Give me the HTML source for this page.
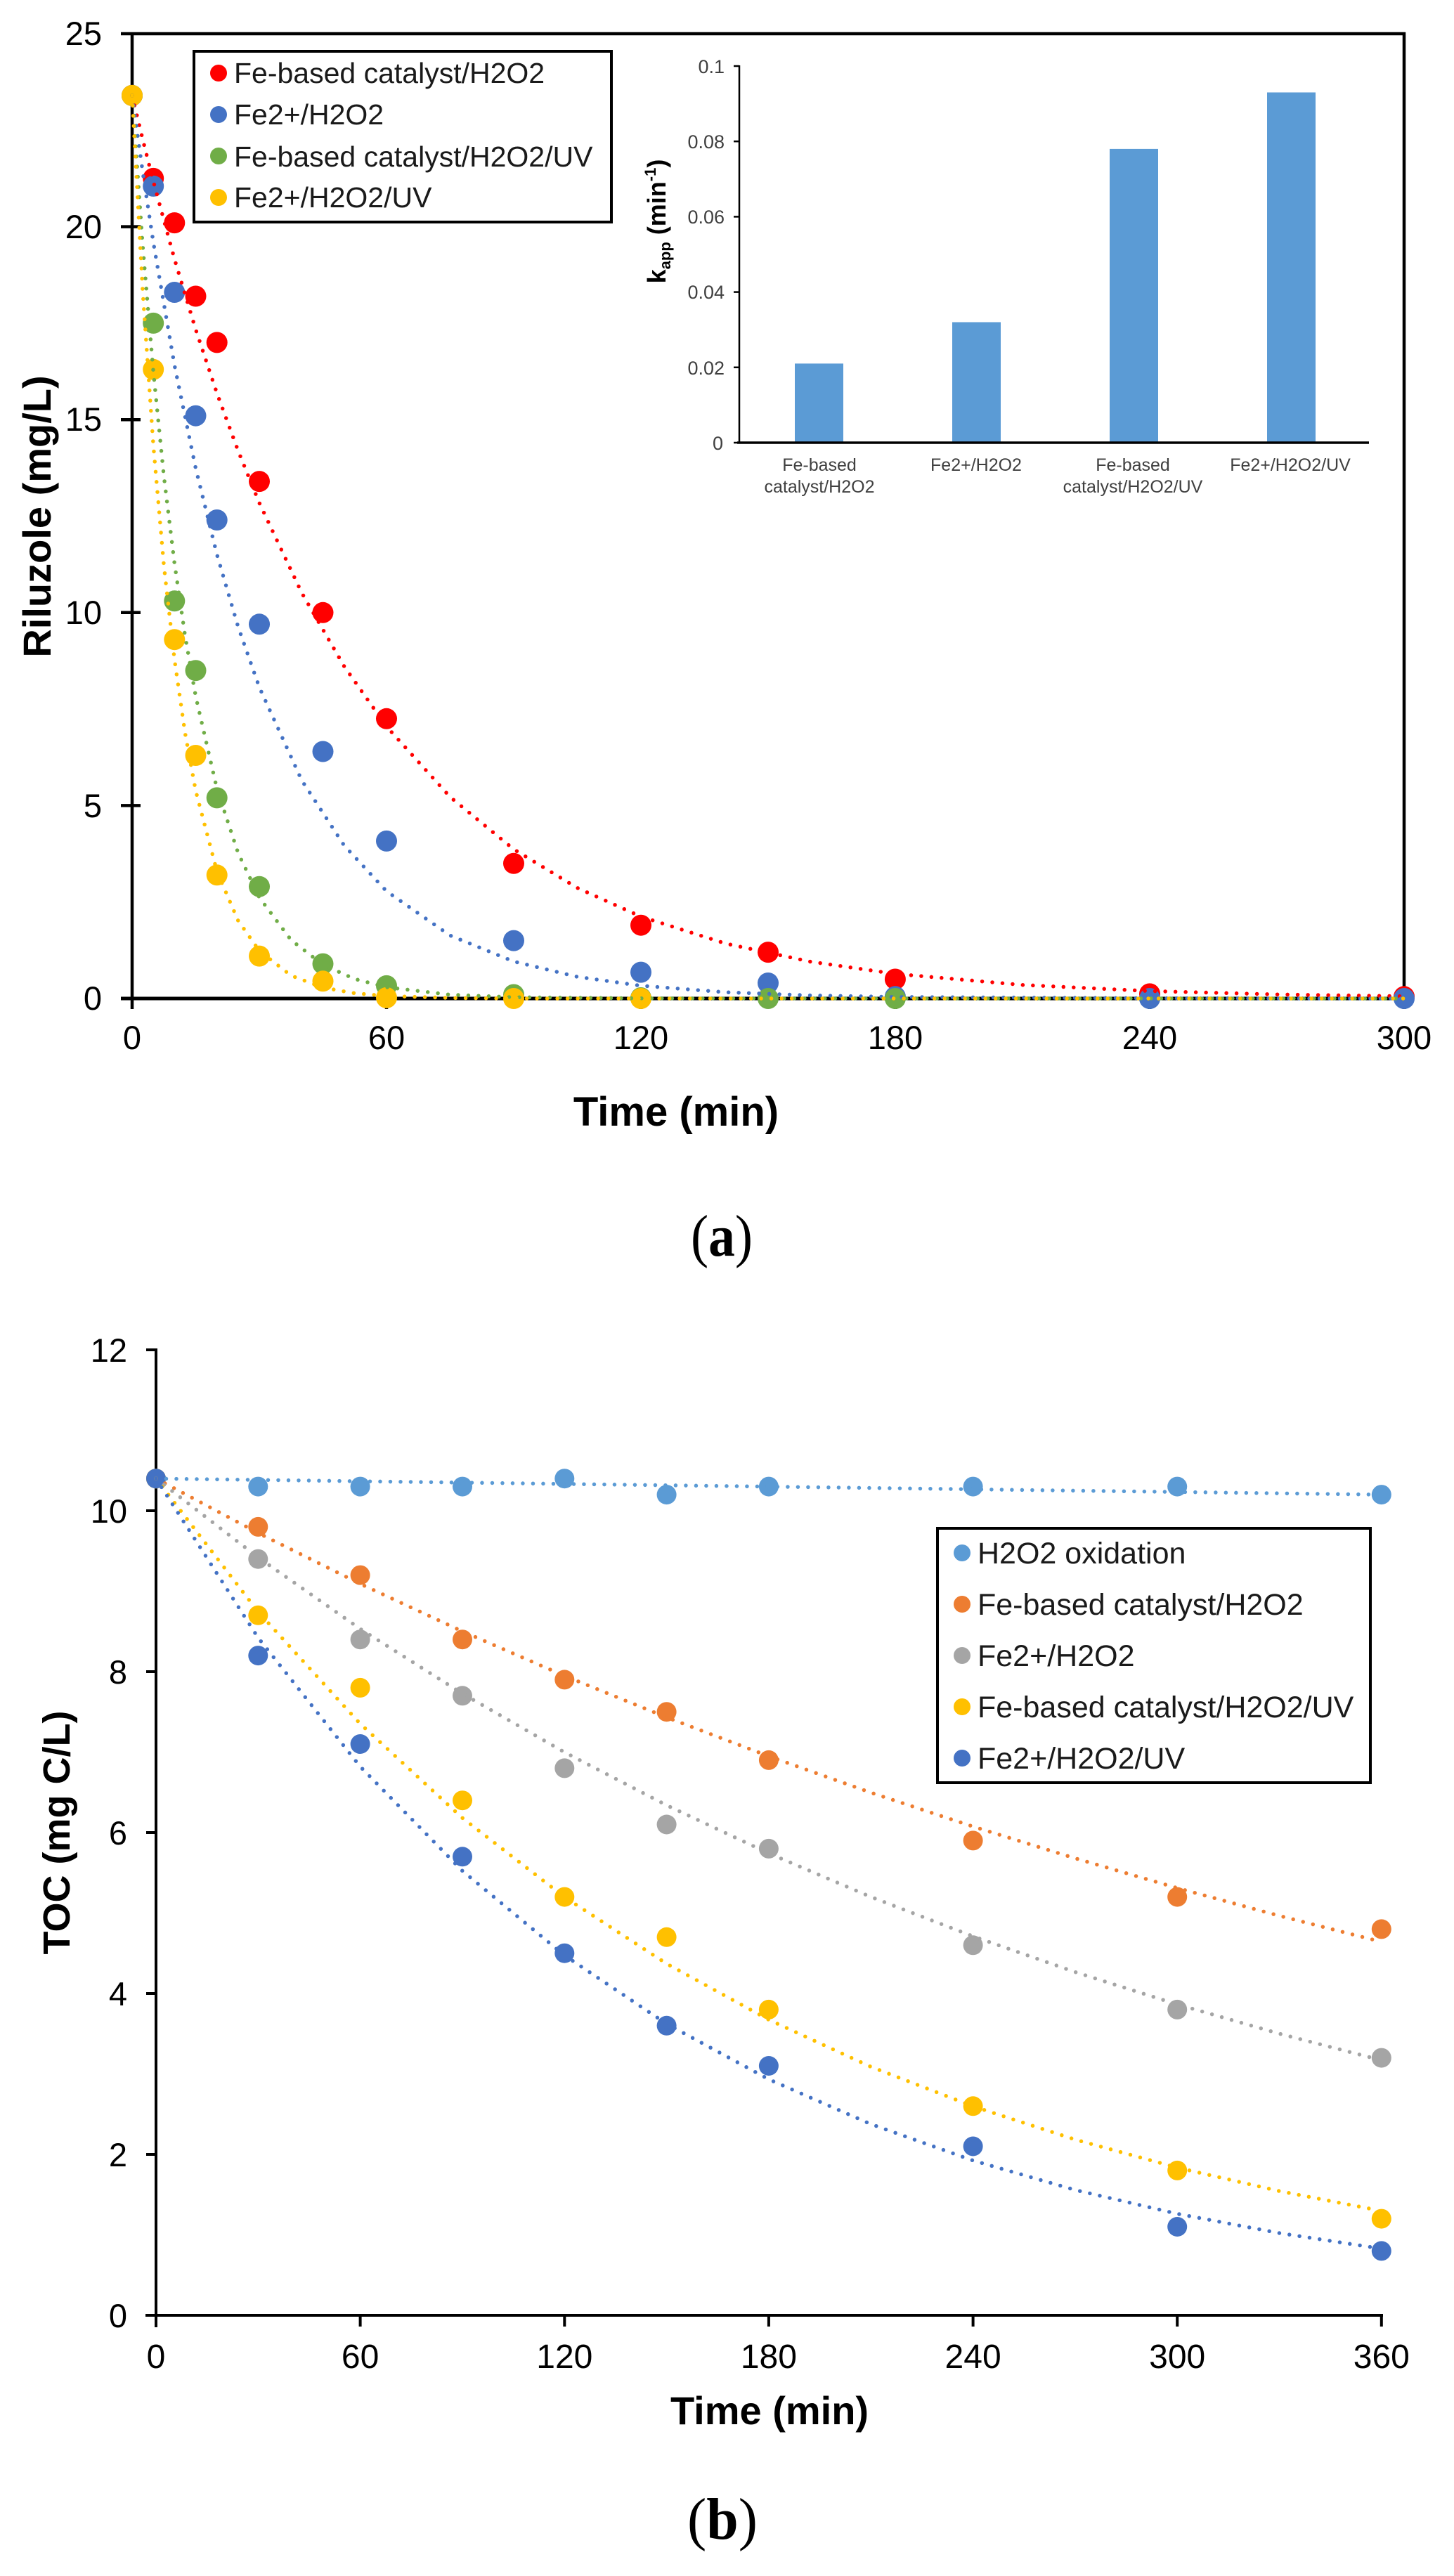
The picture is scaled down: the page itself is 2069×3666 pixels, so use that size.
<!DOCTYPE html>
<html>
<head>
<meta charset="utf-8">
<style>
html,body{margin:0;padding:0;background:#fff;}
svg{display:block;}
text{font-family:"Liberation Sans",Arial,sans-serif;}
.cap{font-family:"Liberation Serif","Times New Roman",serif;}
</style>
</head>
<body>
<svg width="2069" height="3666" viewBox="0 0 2069 3666" xmlns="http://www.w3.org/2000/svg">
<rect x="0" y="0" width="2069" height="3666" fill="#fff"/>

<!-- ================= CHART (a) ================= -->
<g stroke="#000" stroke-width="4.5" fill="none">
  <line x1="172" y1="48" x2="2000" y2="48"/>
  <line x1="1998" y1="46" x2="1998" y2="1423"/>
  <line x1="188" y1="46" x2="188" y2="1436"/>
  <line x1="172" y1="1421" x2="2000" y2="1421" stroke-width="5"/>
  <line x1="172" y1="322.6" x2="200" y2="322.6"/>
  <line x1="172" y1="597.2" x2="200" y2="597.2"/>
  <line x1="172" y1="871.8" x2="200" y2="871.8"/>
  <line x1="172" y1="1146.4" x2="200" y2="1146.4"/>
  <line x1="550" y1="1421" x2="550" y2="1436"/>
  <line x1="912" y1="1421" x2="912" y2="1436"/>
  <line x1="1274" y1="1421" x2="1274" y2="1436"/>
  <line x1="1636" y1="1421" x2="1636" y2="1436"/>
  <line x1="1998" y1="1421" x2="1998" y2="1436"/>
</g>
<g font-size="47" fill="#000" text-anchor="end">
  <text x="145" y="64">25</text>
  <text x="145" y="339">20</text>
  <text x="145" y="613">15</text>
  <text x="145" y="888">10</text>
  <text x="145" y="1163">5</text>
  <text x="145" y="1437">0</text>
</g>
<g font-size="47" fill="#000" text-anchor="middle">
  <text x="188" y="1493">0</text>
  <text x="550" y="1493">60</text>
  <text x="912" y="1493">120</text>
  <text x="1274" y="1493">180</text>
  <text x="1636" y="1493">240</text>
  <text x="1998" y="1493">300</text>
</g>
<text x="962" y="1602" font-size="58" font-weight="bold" text-anchor="middle">Time (min)</text>
<text transform="translate(72,735) rotate(-90)" font-size="56" font-weight="bold" text-anchor="middle">Riluzole (mg/L)</text>

<!-- inset bar chart -->
<g fill="#5B9BD5">
  <rect x="1131" y="517.4" width="69" height="112.6"/>
  <rect x="1355" y="458.5" width="69" height="171.5"/>
  <rect x="1579" y="211.9" width="69" height="418.1"/>
  <rect x="1803" y="131.5" width="69" height="498.5"/>
</g>
<g stroke="#000" fill="none">
  <line x1="1052" y1="93" x2="1052" y2="631" stroke-width="2.5"/>
  <line x1="1049" y1="630" x2="1948" y2="630" stroke-width="3.5"/>
  <g stroke-width="2.5">
    <line x1="1044" y1="94" x2="1052" y2="94"/>
    <line x1="1044" y1="201.2" x2="1052" y2="201.2"/>
    <line x1="1044" y1="308.4" x2="1052" y2="308.4"/>
    <line x1="1044" y1="415.6" x2="1052" y2="415.6"/>
    <line x1="1044" y1="522.8" x2="1052" y2="522.8"/>
    <line x1="1044" y1="630" x2="1052" y2="630"/>
  </g>
</g>
<g font-size="27" fill="#404040" text-anchor="end">
  <text x="1031" y="104">0.1</text>
  <text x="1031" y="211">0.08</text>
  <text x="1031" y="318">0.06</text>
  <text x="1031" y="425">0.04</text>
  <text x="1031" y="533">0.02</text>
  <text x="1029" y="640">0</text>
</g>
<g font-size="25" fill="#404040" text-anchor="middle">
  <text x="1166" y="670">Fe-based</text>
  <text x="1166" y="701">catalyst/H2O2</text>
  <text x="1389" y="670">Fe2+/H2O2</text>
  <text x="1612" y="670">Fe-based</text>
  <text x="1612" y="701">catalyst/H2O2/UV</text>
  <text x="1836" y="670">Fe2+/H2O2/UV</text>
</g>
<text transform="translate(947,315) rotate(-90)" font-size="36" font-weight="bold" text-anchor="middle" fill="#000">k<tspan font-size="22" dy="7">app</tspan><tspan dy="-7"> (min</tspan><tspan font-size="22" dy="-14">-1</tspan><tspan dy="14">)</tspan></text>

<!-- legend (a) -->
<rect x="276" y="73" width="594" height="243" fill="#fff" stroke="#000" stroke-width="4"/>
<circle cx="311" cy="104" r="12" fill="#FF0000"/>
<circle cx="311" cy="163" r="12" fill="#4472C4"/>
<circle cx="311" cy="222" r="12" fill="#70AD47"/>
<circle cx="311" cy="281" r="12" fill="#FFC000"/>
<g font-size="41" fill="#1a1a1a">
  <text x="333" y="118">Fe-based catalyst/H2O2</text>
  <text x="333" y="177">Fe2+/H2O2</text>
  <text x="333" y="237">Fe-based catalyst/H2O2/UV</text>
  <text x="333" y="295">Fe2+/H2O2/UV</text>
</g>

<!-- markers (a) -->
<g fill="#FF0000">
  <circle cx="188" cy="135.9" r="15"/><circle cx="218.2" cy="253.9" r="15"/><circle cx="248.3" cy="317.1" r="15"/>
  <circle cx="278.5" cy="421.5" r="15"/><circle cx="308.7" cy="487.4" r="15"/><circle cx="369" cy="685.1" r="15"/>
  <circle cx="459.5" cy="871.8" r="15"/><circle cx="550" cy="1022.8" r="15"/><circle cx="731" cy="1228.8" r="15"/>
  <circle cx="912" cy="1316.7" r="15"/><circle cx="1093" cy="1355.1" r="15"/><circle cx="1273.9" cy="1393.5" r="15"/>
  <circle cx="1636" cy="1414.4" r="15"/><circle cx="1998" cy="1418.3" r="15"/>
</g>
<g fill="#4472C4">
  <circle cx="188" cy="135.9" r="15"/><circle cx="218.2" cy="264.9" r="15"/><circle cx="248.3" cy="416" r="15"/>
  <circle cx="278.5" cy="591.7" r="15"/><circle cx="308.7" cy="740" r="15"/><circle cx="369" cy="888.3" r="15"/>
  <circle cx="459.5" cy="1069.5" r="15"/><circle cx="550" cy="1196.9" r="15"/><circle cx="731" cy="1338.6" r="15"/>
  <circle cx="912" cy="1383.6" r="15"/><circle cx="1093" cy="1399" r="15"/><circle cx="1273.9" cy="1418.3" r="15"/>
  <circle cx="1636" cy="1421" r="15"/><circle cx="1998" cy="1421" r="15"/>
</g>
<g fill="#70AD47">
  <circle cx="188" cy="135.9" r="15"/><circle cx="218.2" cy="459.9" r="15"/><circle cx="248.3" cy="855.3" r="15"/>
  <circle cx="278.5" cy="954.2" r="15"/><circle cx="308.7" cy="1135.4" r="15"/><circle cx="369" cy="1261.7" r="15"/>
  <circle cx="459.5" cy="1371.6" r="15"/><circle cx="550" cy="1402.9" r="15"/><circle cx="731" cy="1415.5" r="15"/>
  <circle cx="912" cy="1420" r="15"/><circle cx="1093" cy="1421" r="15"/><circle cx="1273.9" cy="1421" r="15"/>
</g>
<g fill="#FFC000">
  <circle cx="188" cy="135.9" r="15"/><circle cx="218.2" cy="525.8" r="15"/><circle cx="248.3" cy="910.2" r="15"/>
  <circle cx="278.5" cy="1075" r="15"/><circle cx="308.7" cy="1245.3" r="15"/><circle cx="369" cy="1360.6" r="15"/>
  <circle cx="459.5" cy="1396.3" r="15"/><circle cx="550" cy="1419.9" r="15"/><circle cx="731" cy="1421" r="15"/>
  <circle cx="912" cy="1421" r="15"/>
</g>

<!-- trendlines (a) -->
<g fill="none" stroke-width="5.5" stroke-linecap="round" stroke-dasharray="0 14.5">
  <path stroke="#FF0000" d="M188,135.9 L203.1,198.5 L218.2,258.2 L248.3,368.8 L278.5,469 L308.7,559.6 L338.8,641.5 L369,715.7 L429.3,843.6 L489.7,948.2 L550,1033.9 L640.5,1134.2 L731,1208.6 L821.5,1263.6 L912,1304.4 L1032.6,1342.8 L1153.3,1368.6 L1273.9,1385.9 L1454.9,1401.7 L1636,1410.4 L1817,1415.2 L1998,1417.8"/>
  <path stroke="#4472C4" d="M188,135.9 L203.1,245 L218.2,344.9 L248.3,519.9 L278.5,666.5 L308.7,789.2 L338.8,891.9 L369,978 L429.3,1110.4 L489.7,1203.2 L550,1268.3 L640.5,1331.3 L731,1368.3 L821.5,1390.1 L912,1402.8 L1032.6,1412.1 L1153.3,1416.6 L1273.9,1418.8 L1636,1420.7 L1998,1421"/>
  <path stroke="#70AD47" d="M188,135.9 L203.1,350.3 L218.2,528.9 L233.2,677.7 L248.3,801.7 L263.4,905 L278.5,991.1 L308.7,1122.5 L338.8,1213.8 L369,1277.2 L414.2,1337.8 L459.5,1372.9 L504.7,1393.2 L550,1404.9 L640.5,1415.6 L731,1419.2 L912,1420.8 L1998,1421"/>
  <path stroke="#FFC000" d="M188,135.9 L203.1,415.1 L218.2,633.7 L233.2,804.7 L248.3,938.7 L263.4,1043.5 L278.5,1125.5 L308.7,1240 L338.8,1310.1 L369,1353.1 L414.2,1388.4 L459.5,1405.4 L504.7,1413.5 L550,1417.4 L640.5,1420.2 L731,1421 L1998,1421"/>
</g>

<text class="cap" x="1027" y="1787" font-size="84" text-anchor="middle" textLength="88" lengthAdjust="spacingAndGlyphs">(<tspan font-weight="bold">a</tspan>)</text>

<!-- ================= CHART (b) ================= -->
<g stroke="#000" stroke-width="4" fill="none">
  <line x1="222" y1="1919" x2="222" y2="3312"/>
  <line x1="207" y1="3295" x2="1968" y2="3295"/>
  <line x1="208" y1="1921" x2="222" y2="1921"/>
  <line x1="208" y1="2150" x2="222" y2="2150"/>
  <line x1="208" y1="2379" x2="222" y2="2379"/>
  <line x1="208" y1="2608" x2="222" y2="2608"/>
  <line x1="208" y1="2837" x2="222" y2="2837"/>
  <line x1="208" y1="3066" x2="222" y2="3066"/>
  <line x1="512.6" y1="3295" x2="512.6" y2="3311"/>
  <line x1="803.3" y1="3295" x2="803.3" y2="3311"/>
  <line x1="1093.9" y1="3295" x2="1093.9" y2="3311"/>
  <line x1="1384.6" y1="3295" x2="1384.6" y2="3311"/>
  <line x1="1675.2" y1="3295" x2="1675.2" y2="3311"/>
  <line x1="1965.8" y1="3295" x2="1965.8" y2="3311"/>
</g>
<g font-size="47" fill="#000" text-anchor="end">
  <text x="181" y="1938">12</text>
  <text x="181" y="2167">10</text>
  <text x="181" y="2396">8</text>
  <text x="181" y="2625">6</text>
  <text x="181" y="2854">4</text>
  <text x="181" y="3083">2</text>
  <text x="181" y="3312">0</text>
</g>
<g font-size="48" fill="#000" text-anchor="middle">
  <text x="222" y="3370">0</text>
  <text x="512.6" y="3370">60</text>
  <text x="803.3" y="3370">120</text>
  <text x="1093.9" y="3370">180</text>
  <text x="1384.6" y="3370">240</text>
  <text x="1675.2" y="3370">300</text>
  <text x="1965.8" y="3370">360</text>
</g>
<text x="1095" y="3450" font-size="56" font-weight="bold" text-anchor="middle">Time (min)</text>
<text transform="translate(99,2608) rotate(-90)" font-size="54" font-weight="bold" text-anchor="middle">TOC (mg C/L)</text>

<!-- legend (b) -->
<rect x="1334" y="2175" width="616" height="362" fill="#fff" stroke="#000" stroke-width="4"/>
<circle cx="1369" cy="2210" r="12" fill="#5B9BD5"/>
<circle cx="1369" cy="2283" r="12" fill="#ED7D31"/>
<circle cx="1369" cy="2356" r="12" fill="#A5A5A5"/>
<circle cx="1369" cy="2429" r="12" fill="#FFC000"/>
<circle cx="1369" cy="2502" r="12" fill="#4472C4"/>
<g font-size="43" fill="#1a1a1a">
  <text x="1391" y="2225">H2O2 oxidation</text>
  <text x="1391" y="2298">Fe-based catalyst/H2O2</text>
  <text x="1391" y="2371">Fe2+/H2O2</text>
  <text x="1391" y="2444">Fe-based catalyst/H2O2/UV</text>
  <text x="1391" y="2517">Fe2+/H2O2/UV</text>
</g>

<!-- markers (b) -->
<g fill="#5B9BD5">
  <circle cx="222" cy="2104.2" r="14"/><circle cx="367.3" cy="2115.6" r="14"/><circle cx="512.6" cy="2115.6" r="14"/>
  <circle cx="658" cy="2115.6" r="14"/><circle cx="803.3" cy="2104.2" r="14"/><circle cx="948.6" cy="2127.1" r="14"/>
  <circle cx="1093.9" cy="2115.6" r="14"/><circle cx="1384.6" cy="2115.6" r="14"/><circle cx="1675.2" cy="2115.6" r="14"/>
  <circle cx="1965.8" cy="2127.1" r="14"/>
</g>
<g fill="#ED7D31">
  <circle cx="222" cy="2104.2" r="14"/><circle cx="367.3" cy="2172.9" r="14"/><circle cx="512.6" cy="2241.6" r="14"/>
  <circle cx="658" cy="2333.2" r="14"/><circle cx="803.3" cy="2390.4" r="14"/><circle cx="948.6" cy="2436.2" r="14"/>
  <circle cx="1093.9" cy="2504.9" r="14"/><circle cx="1384.6" cy="2619.4" r="14"/><circle cx="1675.2" cy="2699.6" r="14"/>
  <circle cx="1965.8" cy="2745.4" r="14"/>
</g>
<g fill="#A5A5A5">
  <circle cx="222" cy="2104.2" r="14"/><circle cx="367.3" cy="2218.7" r="14"/><circle cx="512.6" cy="2333.2" r="14"/>
  <circle cx="658" cy="2413.3" r="14"/><circle cx="803.3" cy="2516.4" r="14"/><circle cx="948.6" cy="2596.5" r="14"/>
  <circle cx="1093.9" cy="2630.9" r="14"/><circle cx="1384.6" cy="2768.3" r="14"/><circle cx="1675.2" cy="2859.9" r="14"/>
  <circle cx="1965.8" cy="2928.6" r="14"/>
</g>
<g fill="#FFC000">
  <circle cx="222" cy="2104.2" r="14"/><circle cx="367.3" cy="2298.8" r="14"/><circle cx="512.6" cy="2401.9" r="14"/>
  <circle cx="658" cy="2562.2" r="14"/><circle cx="803.3" cy="2699.6" r="14"/><circle cx="948.6" cy="2756.8" r="14"/>
  <circle cx="1093.9" cy="2859.9" r="14"/><circle cx="1384.6" cy="2997.3" r="14"/><circle cx="1675.2" cy="3088.9" r="14"/>
  <circle cx="1965.8" cy="3157.6" r="14"/>
</g>
<g fill="#4472C4">
  <circle cx="222" cy="2104.2" r="14"/><circle cx="367.3" cy="2356.1" r="14"/><circle cx="512.6" cy="2482" r="14"/>
  <circle cx="658" cy="2642.3" r="14"/><circle cx="803.3" cy="2779.7" r="14"/><circle cx="948.6" cy="2882.8" r="14"/>
  <circle cx="1093.9" cy="2940" r="14"/><circle cx="1384.6" cy="3054.5" r="14"/><circle cx="1675.2" cy="3169" r="14"/>
  <circle cx="1965.8" cy="3203.4" r="14"/>
</g>

<!-- trendlines (b) -->
<g fill="none" stroke-width="5.5" stroke-linecap="round" stroke-dasharray="0 14.5">
  <path stroke="#5B9BD5" d="M222,2104.2 L1965.8,2127.1"/>
  <path stroke="#ED7D31" d="M222,2104.2 L367.3,2181.6 L512.6,2254 L658,2321.6 L803.3,2384.9 L948.6,2444 L1093.9,2499.3 L1239.2,2551.1 L1384.6,2599.4 L1529.9,2644.6 L1675.2,2686.9 L1820.5,2726.4 L1960,2762"/>
  <path stroke="#A5A5A5" d="M222,2104.2 L367.3,2216.4 L512.6,2318.1 L658,2410.2 L803.3,2493.6 L948.6,2569.1 L1093.9,2637.5 L1239.2,2699.5 L1384.6,2755.6 L1529.9,2806.5 L1675.2,2852.5 L1820.5,2894.2 L1960,2930.5"/>
  <path stroke="#FFC000" d="M222,2104.2 L367.3,2293.8 L512.6,2453.2 L658,2587.2 L803.3,2699.8 L948.6,2794.6 L1093.9,2874.3 L1239.2,2941.3 L1384.6,2997.5 L1529.9,3044.9 L1675.2,3084.8 L1820.5,3118.2 L1960,3145.3"/>
  <path stroke="#4472C4" d="M222,2104.2 L367.3,2330.7 L512.6,2514.1 L658,2662.5 L803.3,2782.8 L948.6,2880.2 L1093.9,2959.1 L1239.2,3022.9 L1384.6,3074.7 L1529.9,3116.6 L1675.2,3150.5 L1820.5,3178 L1960,3199.3"/>
</g>

<text class="cap" x="1028" y="3613" font-size="84" text-anchor="middle" textLength="100" lengthAdjust="spacingAndGlyphs">(<tspan font-weight="bold">b</tspan>)</text>
</svg>
</body>
</html>
